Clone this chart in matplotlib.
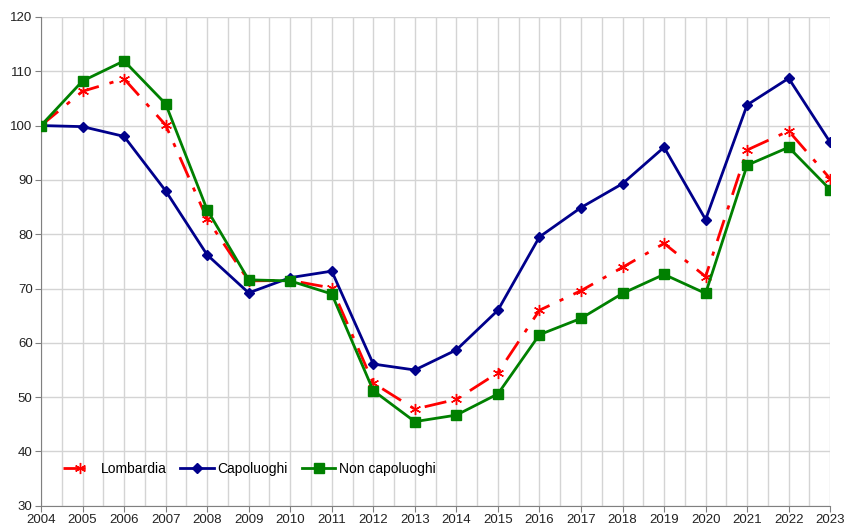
import matplotlib.pyplot as plt
import numpy as np

plt.rcParams["font.family"] = ["Liberation Sans", "DejaVu Sans"]

years = list(range(2004, 2024))
lombardia = [100, 106.3, 108.6, 100.1, 82.8, 71.4, 71.5, 70.1, 52.6, 47.8,
             49.6, 54.5, 66.0, 69.6, 73.9, 78.3, 72.2, 95.5, 99.0, 90.2]
capoluoghi = [100, 99.8, 98.0, 88.0, 76.2, 69.2, 72.0, 73.2, 56.1, 55.0,
              58.7, 66.0, 79.5, 84.9, 89.3, 96.0, 82.7, 103.8, 108.7, 96.9]
non_capoluoghi = [100, 108.2, 111.9, 104.0, 84.5, 71.6, 71.4, 69.0, 51.2, 45.5,
                  46.7, 50.6, 61.5, 64.5, 69.1, 72.6, 69.1, 92.7, 96.0, 88.2]

fig = plt.figure(figsize=(8.45, 5.28), dpi=100)
ax = fig.add_axes([0.0485, 0.042, 0.934, 0.926])

ax.plot(years, lombardia, color="#ff0000", linestyle=(0, (8, 4, 1.5, 4)),
        linewidth=2, marker=(6, 2, 0), markersize=8, markeredgewidth=1,
        label="Lombardia", zorder=3)
ax.plot(years, capoluoghi, color="#00008b", linewidth=2, marker="D",
        markersize=5.5, label="Capoluoghi", zorder=4)
ax.plot(years, non_capoluoghi, color="#008000", linewidth=2, marker="s",
        markersize=7, label="Non capoluoghi", zorder=5)

ax.set_xlim(2004, 2023)
ax.set_ylim(30, 120)
ax.set_xticks(years)
ax.set_xticks(np.arange(2004.5, 2023, 1), minor=True)
ax.set_yticks(range(30, 121, 10))
ax.grid(which="both", color="#d4d4d4", linewidth=1, zorder=0)
ax.set_axisbelow(True)
ax.tick_params(which="major", length=4, color="#808080", labelsize=9.5,
               labelcolor="#222222", direction="out", pad=2)
ax.tick_params(which="minor", length=0)
for side in ["top", "right"]:
    ax.spines[side].set_visible(False)
for side in ["left", "bottom"]:
    ax.spines[side].set_color("#808080")

ax.legend(loc="lower left", bbox_to_anchor=(0.012, 0.035), ncol=3, frameon=False,
          fontsize=10, handlelength=2.4, handletextpad=0.3, columnspacing=1.0)

fig.savefig("out.png", dpi=100)
